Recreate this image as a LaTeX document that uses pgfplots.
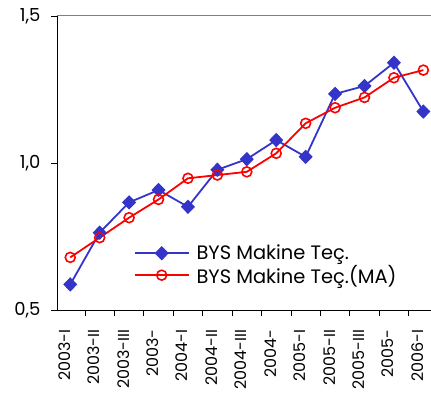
\documentclass[border=0pt]{standalone}
\usepackage{pgfplots}
\pgfplotsset{compat=1.18}
\usepackage{fontspec}
\setmainfont{Poppins}
\definecolor{myblue}{HTML}{3434C8}
\definecolor{myred}{HTML}{FF0000}
\begin{document}
\begin{tikzpicture}
\begin{axis}[
  name=ax,
  scale only axis,
  width=374bp, height=294bp,
  xmin=-0.45, xmax=12.26,
  ymin=0.5, ymax=1.5,
  ytick={0.5,1.0,1.5},
  yticklabel style={font=\fontsize{18}{20}\selectfont,xshift=-7bp,/pgf/number format/.cd,use comma,fixed,fixed zerofill,precision=1,assume math mode=true},
  xtick={0,...,12},
  xticklabels={2003-I,2003-II,2003-III,2003-,2004-I,2004-II,2004-III,2004-,2005-I,2005-II,2005-III,2005-,2006-I},
  xticklabel style={font=\fontsize{16}{18}\selectfont,rotate=90,anchor=base east,xshift=-10bp},
  major x tick style={draw=none},
  minor xtick={0.5,1.5,...,11.5},
  minor tick length=6bp,
  major tick length=6bp,
  tick align=outside,
  tick style={black,line width=0.8pt},
  axis x line*=bottom,
  axis y line*=left,
  axis line style={black,line width=1pt,-},
  clip=true,
  legend style={draw=none,fill=none,at={(0.197,0.235)},anchor=north west,
    font=\fontsize{19.5}{21}\selectfont,row sep=0bp,
    /tikz/every odd column/.append style={column sep=5bp}},
  legend cell align=left,
  legend image code/.code={\draw[mark repeat=2,mark phase=2] plot coordinates {(0cm,0cm)(0.95cm,0cm)(1.9cm,0cm)};},
]
\draw[gray,line width=1pt] (rel axis cs:0,1) -- (rel axis cs:1,1);
\addplot[myblue,line width=1.8pt,mark=diamond*,mark size=6.5pt,mark options={xscale=1.3,solid,line width=1pt}] coordinates {
(0,0.587) (1,0.763) (2,0.866) (3,0.908) (4,0.851) (5,0.977) (6,1.013) (7,1.078) (8,1.021) (9,1.235) (10,1.262) (11,1.341) (12,1.175)};
\addlegendentry{BYS Makine Teç.}
\addplot[myred,line width=1.8pt,mark=o,mark size=5pt,mark options={fill=white,line width=1.6pt}] coordinates {
(0,0.679) (1,0.746) (2,0.814) (3,0.876) (4,0.948) (5,0.959) (6,0.970) (7,1.033) (8,1.135) (9,1.188) (10,1.223) (11,1.290) (12,1.316)};
\addlegendentry{BYS Makine Teç.(MA)}
\end{axis}
\pgfresetboundingbox
\path[use as bounding box] ([xshift=-57bp,yshift=-91bp]ax.south west) rectangle ([yshift=16bp]ax.north east);
\end{tikzpicture}
\end{document}
